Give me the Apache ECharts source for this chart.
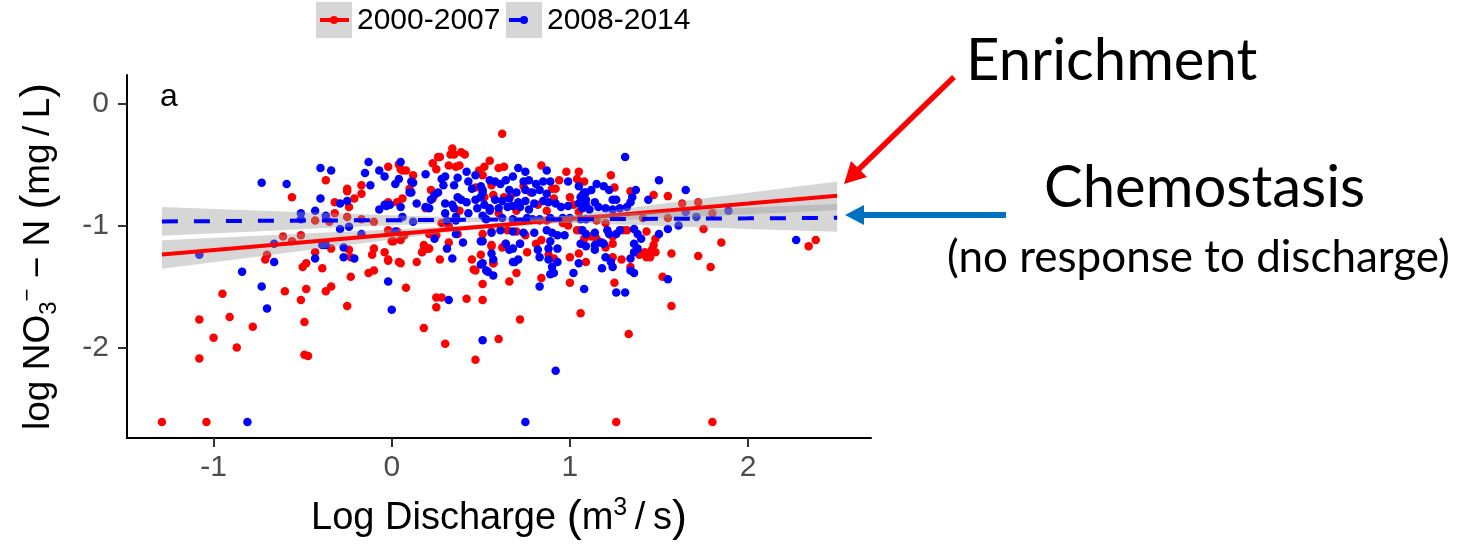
<!DOCTYPE html>
<html>
<head>
<meta charset="utf-8">
<script src="https://cdn.jsdelivr.net/npm/echarts@6/dist/echarts.min.js"></script>
<style>
  html, body { margin: 0; padding: 0; background: #ffffff; }
  #chart { width: 1466px; height: 549px; }
</style>
</head>
<body>
<div id="chart"></div>
<script>
// Period groups
const periods = ['2000-2007', '2008-2014'];
const periodColors = ['#ff0000', '#0000ff'];

// Axis ticks
const xTicks = [-1, 0, 1, 2];
const yTicks = [-2, -1, 0];

// log discharge vs log nitrate-N, 2000-2007
const red = [
  [-1.29,-2.61],[-1.04,-2.61],[1.26,-2.61],[1.80,-2.61],
  [-1.08,-2.09],[-1.08,-1.77],[-1.00,-1.92],[-0.95,-1.56],[-0.91,-1.75],[-0.87,-2.00],[-0.78,-1.83],
  [-0.70,-1.24],[-0.71,-1.28],[-0.61,-1.09],[-0.56,-1.13],[-0.51,-1.08],[-0.56,-0.77],[-0.60,-1.54],
  [-0.51,-1.61],[-0.48,-1.52],[-0.49,-1.79],[-0.49,-2.06],[-0.47,-2.07],[-0.50,-1.34],[-0.48,-1.31],
  [-0.43,-0.96],[-0.37,-0.63],[-0.39,-1.35],[-0.43,-1.22],[-0.34,-1.19],[-0.37,-1.54],[-0.34,-1.50],
  [-0.35,-0.97],[-0.32,-0.81],[-0.32,-0.90],[-0.25,-0.70],[-0.25,-0.72],[-0.24,-0.85],[-0.21,-0.78],
  [-0.17,-0.67],[-0.17,-0.74],[-0.25,-0.93],[-0.17,-0.95],[-0.24,-1.20],[-0.23,-1.26],[-0.23,-1.42],
  [-0.25,-1.66],[-0.13,-1.39],[-0.10,-1.37],[-0.11,-1.24],[-0.10,-1.19],[-0.10,-0.97],[-0.04,-1.22],
  [-0.02,-0.52],[-0.02,-0.81],[-0.02,-1.29],[0.00,-1.13],[0.04,-1.30],[0.04,-0.50],[0.06,-0.55],
  [0.12,-0.59],[0.08,-1.51],[0.14,-1.30],[0.18,-1.84],[0.25,-1.67],[0.25,-1.59],[0.28,-1.59],[0.26,-0.44],
  [0.34,-0.37],[0.39,-0.40],[0.27,-0.44],[0.35,-0.42],[0.33,-0.42],[0.41,-0.42],[0.38,-0.51],[0.32,-0.51],
  [0.36,-0.52],[0.23,-0.49],[0.25,-0.54],[0.05,-0.54],[0.08,-0.55],[0.10,-0.70],[0.22,-0.71],[0.23,-0.78],
  [0.03,-0.81],[0.06,-0.78],[0.19,-0.86],[0.38,-0.88],[0.49,-0.55],[0.51,-0.59],[0.47,-0.69],[0.50,-0.77],
  [0.28,-0.98],[0.32,-1.00],[-0.02,-1.04],[0.03,-1.05],[0.07,-1.08],[0.01,-1.13],[0.05,-1.12],[0.21,-1.07],
  [0.25,-1.08],[0.18,-1.16],[0.21,-1.19],[0.17,-1.22],[-0.02,-1.28],[0.05,-1.31],[0.27,-1.28],[0.45,-1.28],
  [0.50,-1.24],[0.47,-1.37],[0.51,-1.48],[0.32,-1.14],[0.37,-1.07],[0.46,-1.36],[0.57,-1.31],[0.56,-1.16],
  [0.18,-1.20],[0.20,-1.19],
  [0.30,-1.97],[0.47,-2.10],[0.60,-1.93],[0.72,-1.77],[0.42,-1.60],[0.51,-1.61],[0.66,-1.46],
  [0.70,-1.39],[0.84,-1.43],[1.00,-1.47],[1.06,-1.72],[1.25,-1.47],[1.33,-1.89],[1.52,-1.42],[1.57,-1.66],
  [0.62,-0.25],[0.55,-0.47],[0.52,-0.52],[0.60,-0.53],[0.63,-0.52],[0.84,-0.51],[0.98,-0.56],[1.05,-0.56],
  [1.04,-0.62],[0.94,-0.63],[0.92,-0.70],[0.56,-0.67],[0.57,-0.75],[0.52,-0.77],[0.74,-0.68],[0.78,-0.73],
  [0.67,-0.75],[0.63,-0.77],[0.90,-0.70],[0.91,-0.78],[1.00,-0.77],[1.07,-0.75],[0.82,-0.83],[0.87,-0.88],
  [1.02,-0.83],[1.05,-0.89],[0.51,-1.07],[0.56,-1.05],[0.81,-1.15],[0.84,-1.12],[0.88,-1.24],[0.91,-1.27],
  [0.56,-1.17],[0.57,-1.31],[0.62,-1.18],[0.64,-1.15],[1.00,-1.26],[1.05,-1.23],[1.09,-1.30],
  [0.96,-0.98],[0.99,-1.00],[1.04,-1.04],[0.83,-0.96],[0.87,-0.96],
  [0.70,-1.05],[0.75,-1.08],[0.72,-1.15],[0.76,-1.22],[0.65,-1.04],[0.60,-0.90],[0.70,-0.88],
  [1.08,-0.64],[1.23,-0.59],[1.25,-0.69],[1.34,-0.72],[1.47,-0.75],[1.55,-0.76],[1.63,-0.82],
  [1.41,-0.94],[1.55,-0.94],[1.32,-1.04],[1.30,-1.04],[1.15,-0.96],[1.20,-0.98],[1.24,-1.09],[1.20,-1.18],
  [1.24,-1.15],[1.48,-1.11],[1.47,-1.16],[1.46,-1.20],[1.42,-1.22],[1.39,-1.24],[1.43,-1.26],[1.45,-1.26],
  [1.48,-1.22],[1.57,-1.23],[1.29,-1.28],[1.24,-1.26],[1.34,-1.34],
  [1.12,-1.09],[1.08,-1.11],[1.06,-1.04],[1.15,-1.11],[1.18,-1.14],[1.43,-1.05],
  [1.72,-0.81],[1.80,-0.90],[1.75,-1.03],[1.85,-1.14],[1.72,-1.25],[1.79,-1.34],[2.34,-1.17],[2.38,-1.12]
];

// log discharge vs log nitrate-N, 2008-2014
const blue = [
  [-0.81,-2.61],[0.75,-2.61],[0.92,-2.19],
  [-1.08,-1.24],[-0.84,-1.38],[-0.73,-0.65],[-0.73,-1.50],[-0.70,-1.68],[-0.66,-1.15],[-0.66,-1.30],
  [-0.59,-0.66],[-0.51,-0.90],[-0.51,-0.95],[-0.43,-0.88],[-0.43,-1.27],[-0.40,-0.53],[-0.40,-0.78],
  [-0.34,-0.55],[-0.37,-0.92],[-0.39,-1.16],[-0.37,-1.16],[-0.29,-0.82],[-0.29,-1.03],[-0.25,-0.80],
  [-0.24,-1.01],[-0.27,-1.18],[-0.27,-1.26],[-0.21,-1.27],[-0.17,-1.07],[-0.15,-0.57],[-0.13,-0.48],
  [-0.12,-0.67],[-0.07,-0.55],[-0.04,-0.60],[-0.07,-0.87],[-0.04,-0.83],[-0.02,-1.46],[0.00,-1.69],
  [0.02,-1.05],[0.02,-0.66],[0.04,-0.62],[0.05,-0.48],[0.05,-0.85],[0.06,-0.93],[0.10,-0.73],
  [0.12,-0.65],[0.12,-0.97],[0.14,-0.82],[0.19,-0.58],[0.19,-0.85],[0.24,-1.11],[0.32,-1.61],[0.51,-1.94],
  [0.11,-0.64],[0.11,-0.73],[0.28,-0.62],[0.30,-0.60],
  [0.29,-0.67],[0.37,-0.61],[0.35,-0.67],[0.42,-0.56],[0.43,-0.64],[0.47,-0.59],[0.26,-0.73],[0.24,-0.75],
  [0.22,-0.79],[0.30,-0.82],[0.34,-0.83],[0.37,-0.77],[0.39,-0.79],[0.42,-0.81],[0.47,-0.79],[0.45,-0.70],
  [0.50,-0.68],[0.51,-0.73],[-0.03,-0.84],[-0.01,-0.83],
  [0.21,-0.86],[0.30,-0.90],[0.35,-0.86],[0.36,-0.93],[0.43,-0.90],[0.48,-0.86],[0.51,-0.92],[0.55,-0.88],
  [0.31,-0.96],[0.36,-0.96],[0.36,-1.07],[0.40,-1.14],[0.31,-1.19],
  [0.34,-1.27],[0.51,-1.31],[0.53,-1.37],[0.50,-1.32],[0.57,-1.41],
  [0.51,-1.13],[0.56,-1.23],[0.57,-1.28],[0.66,-1.20],[0.71,-1.28],[0.69,-1.30],
  [0.71,-0.53],[0.75,-0.56],[0.87,-0.55],[0.55,-0.63],[0.58,-0.64],[0.61,-0.66],[0.64,-0.63],[0.68,-0.60],
  [0.74,-0.64],[0.77,-0.63],[0.81,-0.66],[0.85,-0.64],[0.89,-0.64],[0.99,-0.64],[1.05,-0.68],[1.09,-0.73],
  [0.51,-0.71],[0.50,-0.77],[0.66,-0.71],[0.70,-0.73],[0.75,-0.71],[0.79,-0.73],[0.83,-0.71],[0.87,-0.74],
  [0.58,-0.79],[0.62,-0.80],[0.66,-0.78],[0.71,-0.81],[0.75,-0.80],[0.80,-0.82],[0.85,-0.80],[0.88,-0.81],[0.92,-0.82],
  [0.52,-0.83],[0.55,-0.86],[0.60,-0.86],[0.65,-0.85],[0.68,-0.84],[0.72,-0.85],[0.77,-0.87],
  [0.95,-0.85],[0.99,-0.84],[1.05,-0.82],[1.09,-0.83],
  [0.53,-0.95],[0.62,-0.94],[0.68,-0.95],[0.76,-0.94],[0.79,-0.95],[0.83,-0.95],[0.89,-0.94],[0.96,-0.94],[1.00,-0.94],[1.06,-0.95],[1.09,-0.95],
  [0.56,-1.06],[0.61,-1.04],[0.68,-1.05],[0.74,-1.06],[0.80,-1.06],[0.87,-1.04],[0.90,-1.06],[0.93,-1.08],[0.97,-1.08],
  [0.50,-1.13],[0.64,-1.15],[0.68,-1.19],[0.72,-1.15],[0.89,-1.13],[0.88,-1.19],[0.93,-1.19],[0.82,-1.20],[0.83,-1.26],
  [0.93,-1.30],[0.68,-1.30],[0.88,-1.28],[0.90,-1.34],[0.89,-1.40],[0.91,-1.39],
  [1.02,-1.39],[1.05,-1.31],[0.54,-1.38],[0.83,-1.50],[1.08,-1.52],
  [1.31,-0.44],[1.50,-0.63],[1.65,-0.71],[1.37,-0.71],[1.35,-0.77],[1.34,-0.81],[1.44,-0.79],
  [1.15,-0.66],[1.19,-0.68],[1.22,-0.71],[1.12,-0.71],[1.08,-0.73],[1.24,-0.79],[1.26,-0.79],[1.14,-0.81],
  [1.09,-0.79],[1.06,-0.77],[1.32,-0.85],[1.28,-0.86],[1.07,-0.86],[1.11,-0.87],[1.16,-0.85],[1.20,-0.86],[1.24,-0.87],
  [1.36,-1.03],[1.38,-1.07],[1.40,-1.11],[1.50,-1.07],[1.55,-1.03],[1.61,-1.00],
  [1.07,-1.04],[1.09,-1.07],[1.14,-1.06],[1.21,-1.04],[1.22,-1.07],[1.28,-1.04],[1.26,-1.07],
  [1.06,-1.15],[1.09,-1.17],[1.14,-1.16],[1.17,-1.14],[1.19,-1.15],[1.14,-1.20],
  [1.36,-1.15],[1.38,-1.19],[1.36,-1.22],[1.20,-1.26],[1.23,-1.30],[1.24,-1.34],[1.18,-1.35],[1.34,-1.27],
  [1.34,-1.37],[1.36,-1.39],[1.55,-1.44],[1.26,-1.55],[1.31,-1.55],
  [1.89,-0.88],[1.71,-0.93],[1.65,-0.89],[2.27,-1.12]
];

// Linear fits with 95% confidence bands, sampled along x
const fitX    = [-1.29, -0.8, -0.4, 0, 0.3, 0.6, 0.9, 1.2, 1.6, 2.0, 2.5];
const redFit  = [-1.238, -1.176, -1.125, -1.074, -1.036, -0.998, -0.960, -0.922, -0.871, -0.821, -0.757];
const redLo   = [-1.355, -1.264, -1.189, -1.115, -1.061, -1.015, -0.985, -0.963, -0.935, -0.909, -0.875];
const redHi   = [-1.121, -1.089, -1.061, -1.033, -1.011, -0.981, -0.935, -0.881, -0.807, -0.733, -0.640];
const blueFit = [-0.967, -0.963, -0.960, -0.957, -0.955, -0.952, -0.950, -0.948, -0.945, -0.942, -0.938];
const blueLo  = [-1.085, -1.051, -1.024, -0.998, -0.980, -0.969, -0.975, -0.989, -1.009, -1.030, -1.052];
const blueHi  = [-0.849, -0.875, -0.896, -0.916, -0.930, -0.935, -0.925, -0.907, -0.881, -0.854, -0.824];

const zip = (xs, ys) => xs.map((x, i) => [x, ys[i]]);

function bandSeries(lo, hi, z) {
  return {
    type: 'custom',
    coordinateSystem: 'cartesian2d',
    silent: true,
    z: z,
    data: [[fitX[0], hi[0]]],
    renderItem: function (params, api) {
      const pts = [];
      for (let i = 0; i < fitX.length; i++) pts.push(api.coord([fitX[i], hi[i]]));
      for (let i = fitX.length - 1; i >= 0; i--) pts.push(api.coord([fitX[i], lo[i]]));
      return { type: 'polygon', shape: { points: pts }, style: { fill: 'rgba(153,153,153,0.4)' } };
    }
  };
}

const FONT = 'Liberation Sans, Arial, sans-serif';
const NOTE_FONT = 'Lato, Open Sans, sans-serif';

const chart = echarts.init(document.getElementById('chart'), null, { renderer: 'canvas' });

// Legend keys: grey band swatch with line and point
function legendKey(x, color, dashed, label, dotX) {
  return {
    type: 'group',
    children: [
      { type: 'rect', shape: { x: x, y: 2, width: 36, height: 36 }, style: { fill: '#d6d6d6' } },
      dashed
        ? { type: 'line', shape: { x1: x + 3, y1: 20, x2: x + 33, y2: 20 }, style: { stroke: color, lineWidth: 4, lineDash: [16, 16] } }
        : { type: 'line', shape: { x1: x + 4, y1: 20, x2: x + 33, y2: 20 }, style: { stroke: color, lineWidth: 4 } },
      { type: 'circle', shape: { cx: dotX, cy: 20, r: 4 }, style: { fill: color } },
      { type: 'text', x: x + 41, y: 21, style: { text: label, font: '30px ' + FONT, fill: '#000', verticalAlign: 'middle', align: 'left' } }
    ]
  };
}

const option = {
  backgroundColor: '#ffffff',
  animation: false,
  grid: { left: 127, right: 595, top: 75, bottom: 111, containLabel: false, outerBoundsMode: 'none' },
  xAxis: {
    type: 'value',
    min: -1.486,
    max: 2.69,
    axisLine: { show: true, onZero: false, lineStyle: { color: '#000', width: 2 } },
    axisTick: { show: true, length: 9, customValues: xTicks, lineStyle: { color: '#333', width: 2 } },
    axisLabel: { show: true, customValues: xTicks, color: '#4d4d4d', fontSize: 30, fontFamily: FONT, margin: 15 },
    splitLine: { show: false },
    name: '{t|Log Discharge }{p|(}{t|m}{sup|3}{t|\u2009/\u2009s}{p|)}',
    nameLocation: 'middle',
    nameGap: 58,
    nameTextStyle: {
      rich: {
        t: { fontSize: 38, fontFamily: FONT, color: '#000' },
        p: { fontSize: 45, fontFamily: FONT, color: '#000' },
        sup: { fontSize: 25, fontFamily: FONT, color: '#000', verticalAlign: 'top' }
      }
    }
  },
  yAxis: {
    type: 'value',
    min: -2.741,
    max: 0.232,
    axisLine: { show: true, onZero: false, lineStyle: { color: '#000', width: 2 } },
    axisTick: { show: true, length: 9, customValues: yTicks, lineStyle: { color: '#333', width: 2 } },
    axisLabel: { show: true, customValues: yTicks, color: '#4d4d4d', fontSize: 30, fontFamily: FONT, margin: 18 },
    splitLine: { show: false },
    name: '{t|log NO}{sub|3}{sup|\u2212}{t| \u2212 N }{p|(}{t|mg\u2009/\u2009L}{p|)}',
    nameLocation: 'middle',
    nameRotate: 90,
    nameGap: 66,
    nameTextStyle: {
      rich: {
        t: { fontSize: 37, fontFamily: FONT, color: '#000' },
        p: { fontSize: 44, fontFamily: FONT, color: '#000' },
        sub: { fontSize: 24, fontFamily: FONT, color: '#000', verticalAlign: 'bottom', lineHeight: 18 },
        sup: { fontSize: 22, fontFamily: FONT, color: '#000', verticalAlign: 'top' }
      }
    }
  },
  series: [
    {
      name: periods[0], type: 'scatter', data: red, symbolSize: 8.5, z: 2,
      itemStyle: { color: periodColors[0], opacity: 1 }
    },
    {
      name: periods[1], type: 'scatter', data: blue, symbolSize: 8.5, z: 2,
      itemStyle: { color: periodColors[1], opacity: 1 }
    },
    bandSeries(redLo, redHi, 3),
    {
      type: 'line', data: zip(fitX, redFit), symbol: 'none', silent: true, z: 4,
      lineStyle: { color: periodColors[0], width: 4 }
    },
    bandSeries(blueLo, blueHi, 5),
    {
      type: 'line', data: zip(fitX, blueFit), symbol: 'none', silent: true, z: 6,
      lineStyle: { color: periodColors[1], width: 4, type: [16, 16] }
    }
  ],
  graphic: [
    legendKey(316, periodColors[0], false, periods[0], 334),
    legendKey(506, periodColors[1], true, periods[1], 524),
    { type: 'text', x: 160, y: 97, style: { text: 'a', font: '32px ' + FONT, fill: '#000', verticalAlign: 'middle' } },
    // annotation arrows
    { type: 'line', shape: { x1: 954, y1: 77, x2: 858, y2: 170 }, style: { stroke: '#ff0000', lineWidth: 5.5 } },
    { type: 'polygon', shape: { points: [[844, 184], [851, 161], [867, 177]] }, style: { fill: '#ff0000' } },
    { type: 'line', shape: { x1: 1006, y1: 215, x2: 860, y2: 215 }, style: { stroke: '#0070c0', lineWidth: 6 } },
    { type: 'polygon', shape: { points: [[845, 215], [864, 205], [864, 225]] }, style: { fill: '#0070c0' } },
    { type: 'text', x: 966, y: 61, style: { text: 'Enrichment', font: '58px ' + NOTE_FONT, fill: '#000', verticalAlign: 'middle' } },
    { type: 'text', x: 1044, y: 188, style: { text: 'Chemostasis', font: '58px ' + NOTE_FONT, fill: '#000', verticalAlign: 'middle' } },
    { type: 'text', x: 947, y: 258, style: { text: '(no response to discharge)', font: '44px ' + NOTE_FONT, fill: '#000', verticalAlign: 'middle' } }
  ]
};

chart.setOption(option);
</script>
</body>
</html>
